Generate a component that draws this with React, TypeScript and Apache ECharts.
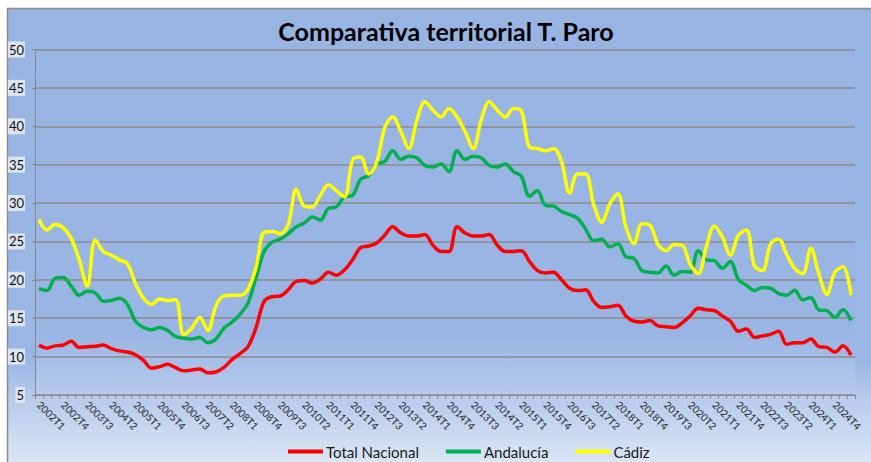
import { useEffect, useRef } from "react";
import * as echarts from "echarts";

const categories = [
  "2002T1", "2002T2", "2002T3", "2002T4",
  "2003T1", "2003T2", "2003T3", "2003T4",
  "2004T1", "2004T2", "2004T3", "2004T4",
  "2005T1", "2005T2", "2005T3", "2005T4",
  "2006T1", "2006T2", "2006T3", "2006T4",
  "2007T1", "2007T2", "2007T3", "2007T4",
  "2008T1", "2008T2", "2008T3", "2008T4",
  "2009T1", "2009T2", "2009T3", "2009T4",
  "2010T1", "2010T2", "2010T3", "2010T4",
  "2011T1", "2011T2", "2011T3", "2011T4",
  "2012T1", "2012T2", "2012T3", "2012T4",
  "2013T1", "2013T2", "2013T3", "2013T4",
  "2014T1", "2014T2", "2014T3", "2014T4",
  "2013T1", "2013T2", "2013T3", "2013T4",
  "2014T1", "2014T2", "2014T3", "2014T4",
  "2015T1", "2015T2", "2015T3", "2015T4",
  "2016T1", "2016T2", "2016T3", "2016T4",
  "2017T1", "2017T2", "2017T3", "2017T4",
  "2018T1", "2018T2", "2018T3", "2018T4",
  "2019T1", "2019T2", "2019T3", "2019T4",
  "2020T1", "2020T2", "2020T3", "2020T4",
  "2021T1", "2021T2", "2021T3", "2021T4",
  "2022T1", "2022T2", "2022T3", "2022T4",
  "2023T1", "2023T2", "2023T3", "2023T4",
  "2024T1", "2024T2", "2024T3", "2024T4",
  "2025T1", "2025T2",
];

const totalNacional = [
  11.5, 11.1, 11.4, 11.5, 12.0, 11.2, 11.3, 11.35, 11.5, 11.05,
  10.75, 10.6, 10.25, 9.5, 8.5, 8.7, 9.0, 8.55, 8.15, 8.25,
  8.4, 7.9, 8.0, 8.6, 9.6, 10.4, 11.3, 13.8, 17.2, 17.8,
  17.9, 18.7, 19.8, 19.9, 19.6, 20.1, 21.0, 20.6, 21.3, 22.6,
  24.2, 24.4, 24.8, 25.8, 26.9, 26.1, 25.7, 25.7, 25.9, 24.5,
  23.7, 23.7, 26.9, 26.1, 25.7, 25.7, 25.9, 24.5, 23.7, 23.7,
  23.8, 22.4, 21.2, 20.9, 21.0, 20.0, 18.9, 18.6, 18.7, 17.2,
  16.4, 16.5, 16.7, 15.3, 14.6, 14.5, 14.7, 14.0, 13.9, 13.8,
  14.4, 15.3, 16.3, 16.1, 16.0, 15.3, 14.6, 13.3, 13.6, 12.5,
  12.7, 12.9, 13.3, 11.6, 11.8, 11.8, 12.3, 11.3, 11.2, 10.6,
  11.4, 10.2,
];

const andalucia = [
  18.9, 18.6, 20.2, 20.3, 19.2, 18.0, 18.5, 18.3, 17.2, 17.3,
  17.6, 16.8, 14.6, 13.8, 13.5, 13.8, 13.4, 12.6, 12.4, 12.3,
  12.5, 11.8, 12.3, 13.7, 14.5, 15.5, 17.0, 20.3, 23.7, 24.9,
  25.3, 26.0, 26.9, 27.4, 28.2, 27.8, 29.3, 29.5, 30.8, 31.0,
  33.1, 33.6, 35.1, 35.4, 36.8, 35.7, 36.1, 35.9, 34.9, 34.7,
  35.1, 34.1, 36.8, 35.7, 36.1, 35.9, 34.9, 34.7, 35.1, 34.1,
  33.5, 30.9, 31.6, 29.7, 29.6, 28.9, 28.5, 28.0, 26.6, 25.1,
  25.3, 24.3, 24.7, 23.0, 22.8, 21.2, 21.0, 20.9, 21.8, 20.6,
  21.1, 21.0, 23.8, 22.6, 22.5, 21.5, 22.4, 20.0, 19.3, 18.6,
  19.0, 18.9, 18.2, 18.0, 18.65, 17.4, 17.7, 16.1, 16.0, 15.1,
  16.1, 14.7,
];

const cadiz = [
  27.9, 26.5, 27.2, 26.8, 25.4, 22.6, 19.2, 25.2, 23.7, 23.2,
  22.6, 22.1, 19.5, 17.6, 16.8, 17.5, 17.3, 17.4, 12.9, 13.7,
  15.1, 13.4, 16.6, 17.9, 18.0, 18.0, 18.8, 21.6, 26.2, 26.3,
  26.0, 27.2, 31.8, 29.6, 29.5, 31.0, 32.4, 31.6, 30.8, 35.6,
  36.0, 33.8, 35.3, 39.8, 41.2, 39.3, 37.1, 40.8, 43.2, 42.1,
  41.2, 42.3, 41.2, 39.3, 37.1, 40.8, 43.2, 42.1, 41.2, 42.3,
  42.0, 37.3, 37.1, 36.8, 37.1, 35.4, 31.3, 33.8, 33.8, 29.8,
  27.5, 29.9, 31.2, 26.9, 24.7, 27.3, 27.1, 24.6, 23.8, 24.6,
  24.5, 22.0, 20.8, 24.3, 27.0, 25.6, 23.2, 25.8, 26.5, 21.8,
  21.2, 24.7, 25.3, 23.3, 21.5, 20.8, 24.1, 20.8, 18.1, 21.0,
  21.7, 18.0,
];

const seriesNames = ["Total Nacional", "Andalucía", "Cádiz"];
const seriesColors = ["#FF0000", "#00B050", "#FFFF00"];
const titleText = "Comparativa territorial T. Paro";

export default function App() {
  const ref = useRef<HTMLDivElement>(null);

  useEffect(() => {
    document.body.style.margin = "0";
    document.documentElement.style.overflow = "hidden";
    document.body.style.overflow = "hidden";
    const chart = echarts.init(ref.current as HTMLDivElement, null, {
      renderer: "svg",
      width: 871,
      height: 462,
    });
    const dataSets = [totalNacional, andalucia, cadiz];
    chart.setOption({
      animation: false,
      backgroundColor: "#ffffff",
      graphic: [
        {
          type: "rect",
          z: -10,
          silent: true,
          shape: { x: 7.5, y: 8.5, width: 866, height: 456 },
          style: {
            fill: new echarts.graphic.LinearGradient(0, 0, 0, 1, [
              { offset: 0, color: "#97B4E3" },
              { offset: 0.77, color: "#9AB6E4" },
              { offset: 0.86, color: "#B9CCEC" },
              { offset: 1, color: "#DCE6F5" },
            ]),
            stroke: "#8C8C8C",
            lineWidth: 1.5,
          },
        },
        {
          type: "text",
          x: 446,
          y: 31,
          z: 10,
          style: {
            text: titleText,
            font: "bold 25px Lato",
            fill: "#000000",
            textAlign: "center",
            textVerticalAlign: "middle",
          },
        },
      ],
      grid: {
        left: 35,
        right: 16,
        top: 49.5,
        bottom: 67,
        containLabel: false,
        outerBoundsMode: "none",
        show: true,
        borderWidth: 0,
        backgroundColor: new echarts.graphic.LinearGradient(0, 0, 0, 1, [
          { offset: 0, color: "#97B4E3" },
          { offset: 0.82, color: "#99B5E4" },
          { offset: 1, color: "#B6CAEC" },
        ]),
      },
      legend: {
        left: 283,
        top: 439,
        icon: "rect",
        itemWidth: 35,
        itemHeight: 4,
        itemGap: 27,
        data: seriesNames,
        textStyle: { fontFamily: "Lato", fontSize: 15, color: "#1a1a1a", padding: [0, 0, 0, -2] },
      },
      xAxis: {
        type: "category",
        data: categories,
        boundaryGap: true,
        axisLine: { lineStyle: { color: "#888888", width: 1 } },
        axisTick: { show: true, interval: 0, length: 4, lineStyle: { color: "#888888" } },
        axisLabel: {
          interval: 2,
          rotate: -45,
          fontFamily: "Lato",
          fontSize: 10,
          color: "#222222",
          margin: 8,
        },
        splitLine: { show: false },
      },
      yAxis: {
        type: "value",
        min: 5,
        max: 50,
        interval: 5,
        axisLine: { show: true, lineStyle: { color: "#888888", width: 1 } },
        axisTick: { show: true, length: 3, lineStyle: { color: "#888888" } },
        axisLabel: {
          fontFamily: "Lato",
          fontSize: 13,
          color: "#111111",
          margin: 10,
          backgroundColor: "#DCE4F1",
          padding: [2, 1, 1, 1],
        },
        splitLine: { lineStyle: { color: "#8C8C8C", width: 1.5 } },
      },
      series: seriesNames.map((name, i) => ({
        name,
        type: "line",
        data: dataSets[i],
        smooth: 0.35,
        symbol: "none",
        color: seriesColors[i],
        lineStyle: { color: seriesColors[i], width: 3.5 },
      })),
    });
    return () => chart.dispose();
  }, []);

  return (
    <div
      ref={ref}
      style={{ position: "fixed", left: 0, top: 0, width: 871, height: 462, overflow: "hidden" }}
    />
  );
}
